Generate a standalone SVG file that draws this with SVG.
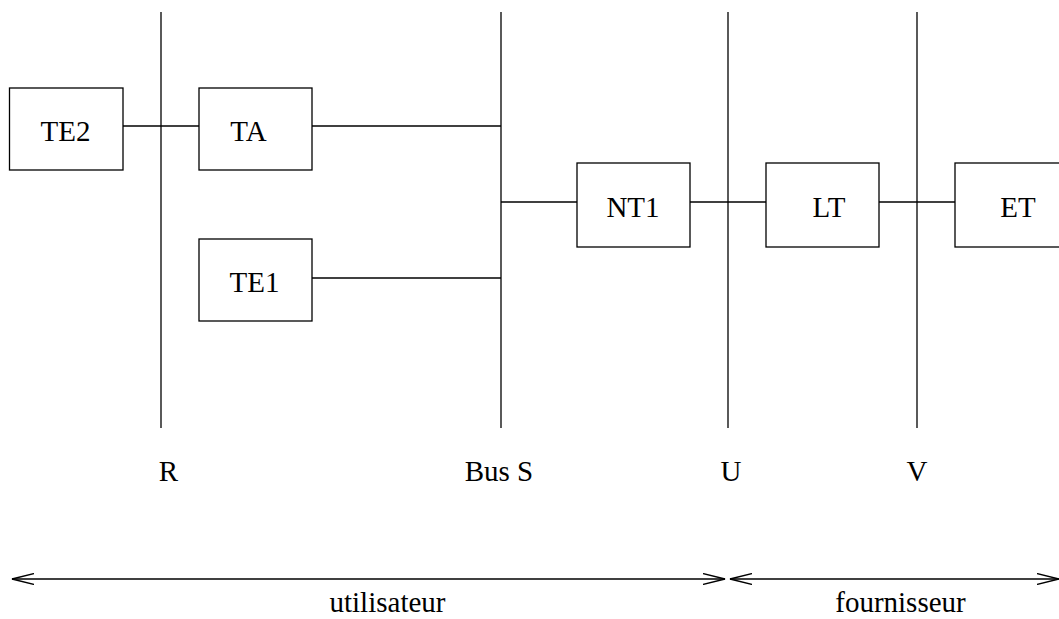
<svg xmlns="http://www.w3.org/2000/svg" width="1059" height="619" viewBox="0 0 1059 619">
<style>
.box{fill:#fff;stroke:#000;stroke-width:1.3}
.ln{stroke:#000;stroke-width:1.3;fill:none}
text{font-family:"Liberation Serif","Times New Roman",serif;font-size:29px;fill:#000;text-anchor:middle}
</style>
<defs>
<marker id="ah" markerWidth="24" markerHeight="12" refX="22" refY="6" orient="auto-start-reverse" markerUnits="userSpaceOnUse">
<path d="M0,0.5 L22,6 L0,11.5" fill="none" stroke="#000" stroke-width="1.3"/>
</marker>
</defs>
<g id="connectors">
<line class="ln" x1="161" y1="12" x2="161" y2="428"/>
<line class="ln" x1="501" y1="12" x2="501" y2="428"/>
<line class="ln" x1="728" y1="12" x2="728" y2="428"/>
<line class="ln" x1="917" y1="12" x2="917" y2="428"/>
<line class="ln" x1="123" y1="126" x2="199" y2="126"/>
<line class="ln" x1="312" y1="126" x2="501" y2="126"/>
<line class="ln" x1="312" y1="278" x2="501" y2="278"/>
<line class="ln" x1="501" y1="202" x2="577" y2="202"/>
<line class="ln" x1="690" y1="202" x2="766" y2="202"/>
<line class="ln" x1="879" y1="202" x2="955" y2="202"/>
<line class="ln" x1="12" y1="579" x2="725" y2="579" marker-start="url(#ah)" marker-end="url(#ah)"/>
<line class="ln" x1="730" y1="579" x2="1059" y2="579" marker-start="url(#ah)" marker-end="url(#ah)"/>
</g>
<g id="TE2"><rect class="box" x="9.5" y="88" width="113.5" height="82"/><text x="65.5" y="141">TE2</text></g>
<g id="TA"><rect class="box" x="199" y="88" width="113" height="82"/><text x="248.5" y="141">TA</text></g>
<g id="TE1"><rect class="box" x="199" y="239" width="113" height="82"/><text x="254.5" y="292">TE1</text></g>
<g id="NT1"><rect class="box" x="577" y="163" width="113" height="84"/><text x="633" y="217">NT1</text></g>
<g id="LT"><rect class="box" x="766" y="163" width="113" height="84"/><text x="829" y="217">LT</text></g>
<g id="ET"><rect class="box" x="955" y="163" width="110" height="84"/><text x="1018" y="217">ET</text></g>
<g id="labels">
<text x="168.5" y="481">R</text>
<text x="499" y="481">Bus S</text>
<text x="731" y="481">U</text>
<text x="917" y="481">V</text>
<text x="387.5" y="612">utilisateur</text>
<text x="900.5" y="612">fournisseur</text>
</g>
</svg>
